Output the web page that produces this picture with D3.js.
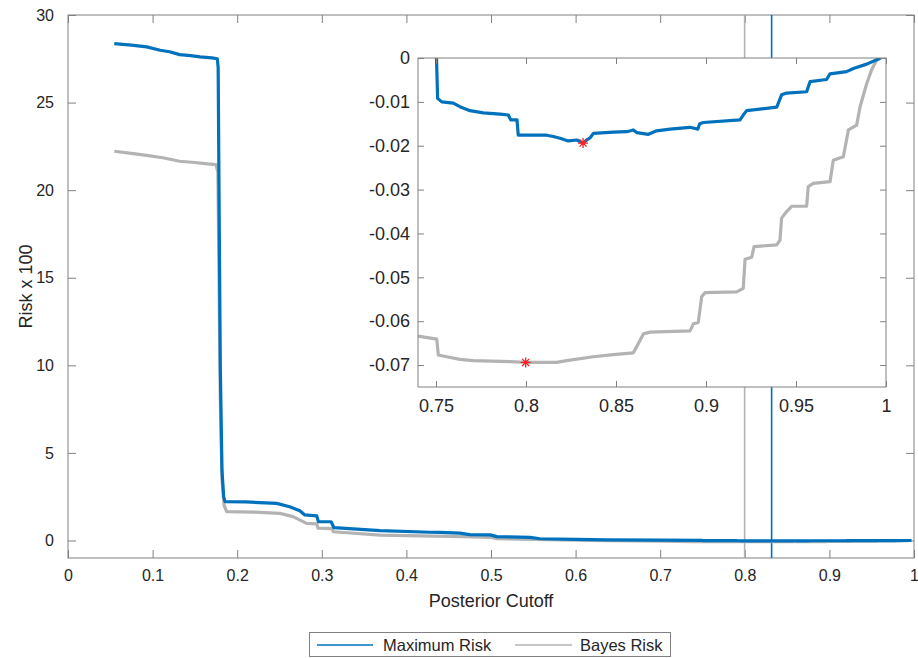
<!DOCTYPE html>
<html>
<head>
<meta charset="utf-8">
<script src="https://cdn.jsdelivr.net/npm/d3@7"></script>
<style>
  body { margin: 0; background: #fff; }
  text { font-family: "Liberation Sans", Arial, Helvetica, sans-serif; fill: #262626; }
</style>
</head>
<body>
<svg id="chart" width="918" height="658"></svg>
<script>
// Posterior cutoff values and Risk x 100 for the two risk curves
const cutoffMax = [
  0.0547, 0.075, 0.093, 0.109, 0.12, 0.132, 0.145, 0.156, 0.170, 0.1765,
  0.1775, 0.1785, 0.1800, 0.1820, 0.1840, 0.1856, 0.21, 0.2467, 0.262, 0.274,
  0.280, 0.294, 0.296, 0.311, 0.3144, 0.3688, 0.428, 0.44, 0.463, 0.475,
  0.499, 0.507, 0.546, 0.558, 0.60, 0.637, 0.70, 0.75,
  0.7509, 0.7532, 0.7596, 0.7633, 0.7689, 0.7763, 0.7856, 0.7902, 0.7915, 0.7950,
  0.7957, 0.8115, 0.8152, 0.8189, 0.8235, 0.8282, 0.8317, 0.8340, 0.8356, 0.8374,
  0.8485, 0.8560, 0.8596, 0.8615, 0.8680, 0.8726, 0.8800, 0.8911, 0.8955, 0.8965,
  0.8985, 0.9189, 0.9207, 0.9226, 0.9393, 0.9420, 0.9448, 0.9559, 0.9578, 0.9670,
  0.9689, 0.9781, 0.9819, 0.9893, 0.9970
];
const maxRisk = [
  28.37, 28.28, 28.18, 27.99, 27.9, 27.74, 27.68, 27.61, 27.55, 27.5,
  27.0, 20.0, 10.0, 4.0, 2.5, 2.22, 2.20, 2.12, 1.93, 1.70,
  1.46, 1.40, 1.07, 1.07, 0.73, 0.56, 0.47, 0.46, 0.42, 0.33,
  0.32, 0.22, 0.18, 0.10, 0.06, 0.03, 0.02, 0.004,
  -0.0092, -0.0100, -0.0103, -0.0111, -0.0120, -0.0125, -0.0128, -0.0130, -0.0141, -0.0141,
  -0.0176, -0.0176, -0.0179, -0.0183, -0.0189, -0.0187, -0.0194, -0.0186, -0.0182, -0.0172,
  -0.0169, -0.0168, -0.0164, -0.0170, -0.0174, -0.0166, -0.0162, -0.0158, -0.0162, -0.0150,
  -0.0147, -0.0141, -0.0130, -0.0120, -0.0112, -0.0084, -0.0080, -0.0077, -0.0054, -0.0049,
  -0.0036, -0.0031, -0.0024, -0.0014, 0.0
];

const cutoffBayes = [
  0.0547, 0.075, 0.093, 0.112, 0.132, 0.150, 0.165, 0.175, 0.1772, 0.1785,
  0.180, 0.182, 0.1845, 0.1876, 0.22, 0.2506, 0.266, 0.282, 0.294, 0.2955,
  0.312, 0.3136, 0.369, 0.467, 0.50, 0.507, 0.55, 0.60, 0.64, 0.70,
  0.74, 0.7504, 0.7513, 0.7559, 0.7633, 0.7707, 0.7911, 0.7998, 0.8170, 0.8226,
  0.8374, 0.8485, 0.8596, 0.8615, 0.8652, 0.8689, 0.8911, 0.8930, 0.8957, 0.8976,
  0.8994, 0.9170, 0.9207, 0.9217, 0.9254, 0.9267, 0.9393, 0.9411, 0.9420, 0.9448,
  0.9476, 0.9559, 0.9568, 0.9596, 0.9689, 0.9707, 0.9763, 0.9791, 0.9837, 0.9856,
  0.9893, 0.9920, 0.9948, 0.9970
];
const bayesRisk = [
  22.22, 22.1, 21.99, 21.85, 21.65, 21.58, 21.5, 21.46, 21.0, 15.0,
  8.0, 3.5, 2.0, 1.65, 1.62, 1.55, 1.36, 0.98, 0.95, 0.70,
  0.68, 0.50, 0.31, 0.22, 0.18, 0.10, 0.06, 0.02, -0.01, -0.045,
  -0.0634, -0.0641, -0.0677, -0.0681, -0.0687, -0.0690, -0.0692, -0.0694, -0.0694, -0.0690,
  -0.0681, -0.0676, -0.0672, -0.0658, -0.0629, -0.0625, -0.0622, -0.0606, -0.0603, -0.0544,
  -0.0535, -0.0533, -0.0525, -0.0459, -0.0454, -0.0430, -0.0426, -0.0415, -0.0365, -0.0350,
  -0.0338, -0.0338, -0.0293, -0.0286, -0.0282, -0.0233, -0.0225, -0.0164, -0.0153, -0.0111,
  -0.0058, -0.0027, -0.0005, 0.0
];

// Optimal cutoffs (minimum risk) for each curve: [Maximum Risk, Bayes Risk]
const optimalCutoff = [0.8317, 0.7998];
const optimalRisk = [-0.0194, -0.0694];

const seriesNames = ["Maximum Risk", "Bayes Risk"];

const mainXTicks = [0, 0.1, 0.2, 0.3, 0.4, 0.5, 0.6, 0.7, 0.8, 0.9, 1];
const mainYTicks = [0, 5, 10, 15, 20, 25, 30];
const insetXTicks = [0.75, 0.8, 0.85, 0.9, 0.95, 1];
const insetYTicks = [0, -0.01, -0.02, -0.03, -0.04, -0.05, -0.06, -0.07];

// ---- styling ----
const BLUE = "#0072BD";
const GRAY = "#B3B3B3";
const AXIS = "#808080";
const colors = [BLUE, GRAY];

const svg = d3.select("#chart");

const main = { left: 68, right: 914, top: 15, bottom: 558 };
const inset = { left: 418, right: 886, top: 58, bottom: 387 };

const x = d3.scaleLinear().domain([0, 1]).range([main.left, main.right]);
const y = d3.scaleLinear().domain([-1, 30]).range([main.bottom, main.top]);
const xi = d3.scaleLinear().domain([0.74, 1]).range([inset.left, inset.right]);
const yi = d3.scaleLinear().domain([-0.075, 0]).range([inset.bottom, inset.top]);

const series = [
  cutoffMax.map((c, i) => [c, maxRisk[i]]),
  cutoffBayes.map((c, i) => [c, bayesRisk[i]])
];

const defs = svg.append("defs");
defs.append("clipPath").attr("id", "clipMain").append("rect")
  .attr("x", main.left).attr("y", main.top)
  .attr("width", main.right - main.left).attr("height", main.bottom - main.top);
defs.append("clipPath").attr("id", "clipInset").append("rect")
  .attr("x", inset.left).attr("y", inset.top)
  .attr("width", inset.right - inset.left).attr("height", inset.bottom - inset.top);

const fmt = d => String(d);

function styleAxis(g) {
  g.select(".domain").remove();
  g.selectAll(".tick line").attr("stroke", AXIS).attr("stroke-width", 1);
  g.selectAll(".tick text").attr("fill", "#262626");
}

// ---- main axes ----
svg.append("g").attr("transform", `translate(0,${main.bottom})`)
  .call(d3.axisBottom(x).tickValues(mainXTicks).tickFormat(fmt).tickSizeInner(-8).tickSizeOuter(0).tickPadding(12))
  .call(styleAxis)
  .call(g => g.selectAll(".tick text").style("font-size", "16px").attr("dy", "0.71em"));
svg.append("g").attr("transform", `translate(0,${main.top})`)
  .call(d3.axisTop(x).tickValues(mainXTicks).tickFormat("").tickSizeInner(-8).tickSizeOuter(0))
  .call(styleAxis);
svg.append("g").attr("transform", `translate(${main.left},0)`)
  .call(d3.axisLeft(y).tickValues(mainYTicks).tickFormat(fmt).tickSizeInner(-8).tickSizeOuter(0).tickPadding(14))
  .call(styleAxis)
  .call(g => g.selectAll(".tick text").style("font-size", "16px"));
svg.append("g").attr("transform", `translate(${main.right},0)`)
  .call(d3.axisRight(y).tickValues(mainYTicks).tickFormat("").tickSizeInner(-8).tickSizeOuter(0))
  .call(styleAxis);

svg.append("rect")
  .attr("x", main.left).attr("y", main.top)
  .attr("width", main.right - main.left).attr("height", main.bottom - main.top)
  .attr("fill", "none").attr("stroke", AXIS).attr("stroke-width", 1);

svg.append("text")
  .attr("x", (main.left + main.right) / 2).attr("y", 607)
  .attr("text-anchor", "middle").style("font-size", "18px")
  .text("Posterior Cutoff");
svg.append("text")
  .attr("transform", `translate(26,${(main.top + main.bottom) / 2}) rotate(-90)`)
  .attr("text-anchor", "middle").attr("dy", "0.35em").style("font-size", "18px")
  .text("Risk x 100");

// vertical markers at the optimal cutoffs
const markers = svg.append("g").attr("clip-path", "url(#clipMain)");
[1, 0].forEach(k => {
  markers.append("line")
    .attr("x1", x(optimalCutoff[k])).attr("x2", x(optimalCutoff[k]))
    .attr("y1", y(30)).attr("y2", y(-1))
    .attr("stroke", colors[k]).attr("stroke-width", 1.6);
});

// main curves
const lineMain = d3.line().x(d => x(d[0])).y(d => y(d[1]));
const curvesMain = svg.append("g").attr("clip-path", "url(#clipMain)");
[1, 0].forEach(k => {
  curvesMain.append("path").datum(series[k])
    .attr("d", lineMain).attr("fill", "none")
    .attr("stroke", colors[k]).attr("stroke-width", 3.2)
    .attr("stroke-linejoin", "round");
});

// ---- inset ----
svg.append("rect")
  .attr("x", inset.left).attr("y", inset.top)
  .attr("width", inset.right - inset.left).attr("height", inset.bottom - inset.top)
  .attr("fill", "#fff");

const lineInset = d3.line().x(d => xi(d[0])).y(d => yi(d[1]));
const curvesInset = svg.append("g").attr("clip-path", "url(#clipInset)");
[1, 0].forEach(k => {
  curvesInset.append("path").datum(series[k].filter(d => d[0] >= 0.735))
    .attr("d", lineInset).attr("fill", "none")
    .attr("stroke", colors[k]).attr("stroke-width", 3.2)
    .attr("stroke-linejoin", "round");
});

// asterisk markers at the minima
function asterisk(r) {
  const p = d3.path();
  const a = r * Math.SQRT1_2;
  p.moveTo(-r, 0); p.lineTo(r, 0);
  p.moveTo(0, -r); p.lineTo(0, r);
  p.moveTo(-a, -a); p.lineTo(a, a);
  p.moveTo(-a, a); p.lineTo(a, -a);
  return p.toString();
}
optimalCutoff.forEach((c, k) => {
  svg.append("path")
    .attr("transform", `translate(${xi(c)},${yi(optimalRisk[k])})`)
    .attr("d", asterisk(5))
    .attr("stroke", "#FF2020").attr("stroke-width", 1.3).attr("fill", "none");
});

svg.append("g").attr("transform", `translate(0,${inset.bottom})`)
  .call(d3.axisBottom(xi).tickValues(insetXTicks).tickFormat(fmt).tickSizeInner(-6).tickSizeOuter(0).tickPadding(12))
  .call(styleAxis)
  .call(g => g.selectAll(".tick text").style("font-size", "18px").attr("dy", "0.71em"));
svg.append("g").attr("transform", `translate(0,${inset.top})`)
  .call(d3.axisTop(xi).tickValues(insetXTicks).tickFormat("").tickSizeInner(-6).tickSizeOuter(0))
  .call(styleAxis);
svg.append("g").attr("transform", `translate(${inset.left},0)`)
  .call(d3.axisLeft(yi).tickValues(insetYTicks).tickFormat(fmt).tickSizeInner(-6).tickSizeOuter(0).tickPadding(8))
  .call(styleAxis)
  .call(g => g.selectAll(".tick text").style("font-size", "18px"));
svg.append("g").attr("transform", `translate(${inset.right},0)`)
  .call(d3.axisRight(yi).tickValues(insetYTicks).tickFormat("").tickSizeInner(-6).tickSizeOuter(0))
  .call(styleAxis);

svg.append("rect")
  .attr("x", inset.left).attr("y", inset.top)
  .attr("width", inset.right - inset.left).attr("height", inset.bottom - inset.top)
  .attr("fill", "none").attr("stroke", AXIS).attr("stroke-width", 1);

// ---- legend ----
const legend = svg.append("g");
legend.append("rect")
  .attr("x", 309.5).attr("y", 632.5).attr("width", 361).attr("height", 24)
  .attr("fill", "#fff").attr("stroke", AXIS).attr("stroke-width", 1);
const legendItems = [
  { x0: 317, x1: 373, tx: 383 },
  { x0: 515, x1: 572, tx: 580 }
];
legendItems.forEach((it, k) => {
  legend.append("line")
    .attr("x1", it.x0).attr("x2", it.x1).attr("y1", 645).attr("y2", 645)
    .attr("stroke", colors[k]).attr("stroke-width", 1.5);
  legend.append("text")
    .attr("x", it.tx).attr("y", 645).attr("dy", "0.35em")
    .style("font-size", "16.5px")
    .text(seriesNames[k]);
});
</script>
</body>
</html>
